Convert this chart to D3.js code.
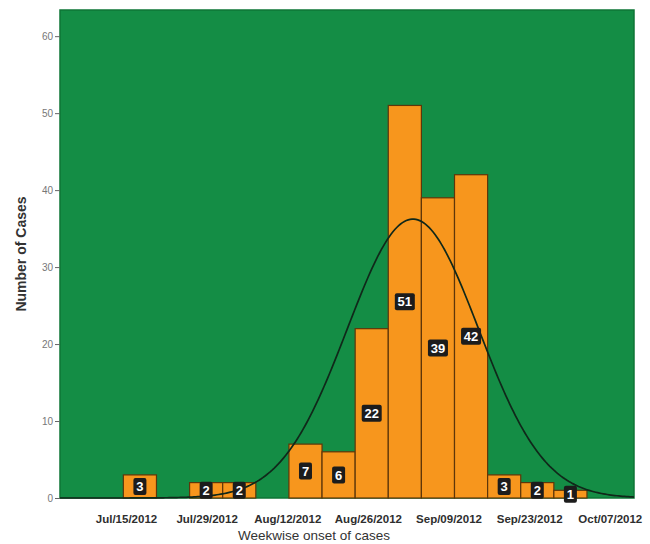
<!DOCTYPE html>
<html>
<head>
<meta charset="utf-8">
<script src="https://cdn.jsdelivr.net/npm/d3@7"></script>
<style>
  html, body { margin: 0; padding: 0; background: #ffffff; }
  svg { display: block; font-family: "Liberation Sans", Arial, sans-serif; }
</style>
</head>
<body>
<svg id="chart" width="650" height="544"></svg>
<script>
// ---- data ----
const binCounts = [3, 0, 2, 2, 0, 7, 6, 22, 51, 39, 42, 3, 2, 1];
const firstBinStart = new Date(2012, 6, 14, 13);   // left edge of first bin
const binWidthDays = 5.75;
const xTickDates = [
  new Date(2012, 6, 15), new Date(2012, 6, 29), new Date(2012, 7, 12),
  new Date(2012, 7, 26), new Date(2012, 8, 9), new Date(2012, 8, 23),
  new Date(2012, 9, 7)
];
const xTickLabels = ["Jul/15/2012", "Jul/29/2012", "Aug/12/2012", "Aug/26/2012",
                     "Sep/09/2012", "Sep/23/2012", "Oct/07/2012"];
const yTicks = [0, 10, 20, 30, 40, 50, 60];
const xDomain = [new Date(2012, 6, 3, 13), new Date(2012, 9, 11, 5)];
const yMax = 63.4;

// ---- layout ----
const svg = d3.select("#chart");
const plot = { left: 60, right: 634, top: 10, bottom: 498 };
const DAY = 86400000;

const x = d3.scaleTime().domain(xDomain).range([plot.left, plot.right]);
const y = d3.scaleLinear().domain([0, yMax]).range([plot.bottom, plot.top]);

const bins = binCounts.map((c, i) => {
  const x0 = new Date(firstBinStart.getTime() + i * binWidthDays * DAY);
  const x1 = new Date(firstBinStart.getTime() + (i + 1) * binWidthDays * DAY);
  return { x0, x1, count: c };
});

// background
svg.append("rect")
  .attr("x", plot.left).attr("y", plot.top)
  .attr("width", plot.right - plot.left).attr("height", plot.bottom - plot.top)
  .attr("fill", "#148d45")
  .attr("stroke", "#0e7536").attr("stroke-width", 1.5);

// bars
svg.append("g").selectAll("rect")
  .data(bins.filter(b => b.count > 0))
  .join("rect")
  .attr("x", d => x(d.x0))
  .attr("y", d => y(d.count))
  .attr("width", d => x(d.x1) - x(d.x0))
  .attr("height", d => y(0) - y(d.count))
  .attr("fill", "#f7961d")
  .attr("stroke", "#5e360a")
  .attr("stroke-width", 1.2);

// normal curve fitted to the binned data
const N = d3.sum(bins, b => b.count);
const mids = bins.map(b => ({ t: (b.x0.getTime() + b.x1.getTime()) / 2 / DAY, c: b.count }));
const mean = d3.sum(mids, m => m.t * m.c) / N;
const sd = Math.sqrt(d3.sum(mids, m => m.c * (m.t - mean) ** 2) / (N - 1));
const t0 = xDomain[0].getTime() / DAY, t1 = xDomain[1].getTime() / DAY;
const curvePts = d3.range(0, 301).map(i => {
  const t = t0 + (t1 - t0) * i / 300;
  const v = N * binWidthDays * Math.exp(-0.5 * ((t - mean) / sd) ** 2) / (sd * Math.sqrt(2 * Math.PI));
  return [new Date(t * DAY), v];
});
svg.append("path")
  .datum(curvePts)
  .attr("d", d3.line().x(d => x(d[0])).y(d => y(d[1])))
  .attr("fill", "none")
  .attr("stroke", "#10281a")
  .attr("stroke-width", 1.7);

// data labels
const lab = svg.append("g").selectAll("g")
  .data(bins.filter(b => b.count > 0))
  .join("g")
  .attr("transform", d => `translate(${(x(d.x0) + x(d.x1)) / 2},${(y(d.count) + y(0)) / 2})`);
lab.append("rect")
  .attr("x", d => String(d.count).length > 1 ? -10 : -6.5)
  .attr("y", -8.5)
  .attr("width", d => String(d.count).length > 1 ? 20 : 13)
  .attr("height", 17)
  .attr("rx", 2)
  .attr("fill", "#1c1c1c");
lab.append("text")
  .attr("text-anchor", "middle")
  .attr("dy", "0.36em")
  .attr("fill", "#ffffff")
  .attr("font-weight", "bold")
  .attr("font-size", 13)
  .text(d => d.count);

// y axis
const yAxis = d3.axisLeft(y).tickValues(yTicks).tickSize(5).tickPadding(2);
const gy = svg.append("g").attr("transform", `translate(${plot.left},0)`).call(yAxis);
gy.select(".domain").remove();
gy.selectAll(".tick line").attr("stroke", "#666");
gy.selectAll(".tick text").attr("fill", "#777").attr("font-size", 10)
  .attr("font-family", "Liberation Sans, Arial, sans-serif");

// x axis labels
const xAxis = d3.axisBottom(x).tickValues(xTickDates)
  .tickFormat((d, i) => xTickLabels[i]).tickSize(0).tickPadding(17);
const gx = svg.append("g").attr("transform", `translate(0,${plot.bottom})`).call(xAxis);
gx.select(".domain").remove();
gx.selectAll(".tick text").attr("fill", "#2e2e2e").attr("font-size", 11.5)
  .attr("font-weight", "bold")
  .attr("font-family", "Liberation Sans, Arial, sans-serif");

// axis titles
svg.append("text")
  .attr("transform", `translate(26,${(plot.top + plot.bottom) / 2}) rotate(-90)`)
  .attr("text-anchor", "middle")
  .attr("font-size", 14).attr("font-weight", "bold").attr("fill", "#333")
  .text("Number of Cases");
svg.append("text")
  .attr("x", 314).attr("y", 540)
  .attr("text-anchor", "middle")
  .attr("font-size", 13.5).attr("fill", "#333")
  .text("Weekwise onset of cases");
</script>
</body>
</html>
